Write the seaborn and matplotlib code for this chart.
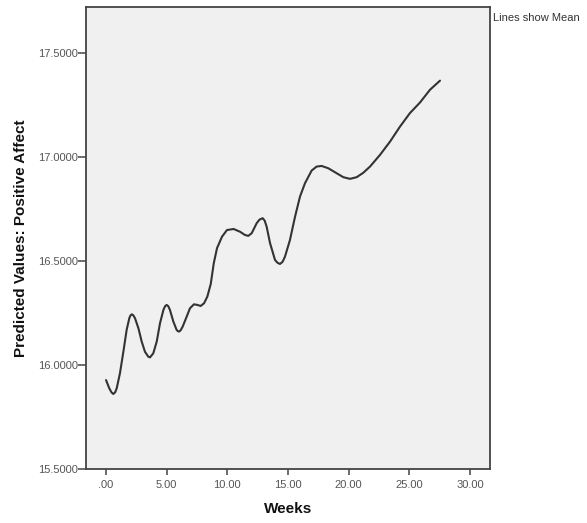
import matplotlib
matplotlib.use("Agg")
import matplotlib.pyplot as plt
import seaborn as sns
import pandas as pd

# Points
weeks = [0.00, 0.27, 0.45, 0.60, 0.75, 0.88, 1.15, 1.43, 1.70, 1.92, 2.00, 2.12,
         2.25, 2.39, 2.67, 2.94, 3.21, 3.49, 3.63, 3.90, 4.18, 4.45, 4.73, 4.87,
         5.00, 5.13, 5.27, 5.55, 5.82, 5.92, 6.02, 6.15, 6.32, 6.65, 6.92, 7.25,
         7.53, 7.80, 8.08, 8.35, 8.63, 8.88, 9.15, 9.56, 9.97, 10.52, 11.04, 11.46,
         11.73, 12.01, 12.42, 12.65, 12.91, 13.08, 13.24, 13.52, 13.93, 14.15, 14.34,
         14.55, 14.75, 15.16, 15.58, 15.99, 16.40, 16.95, 17.36, 17.77, 18.32, 19.01,
         19.56, 20.11, 20.66, 21.20, 21.76, 22.58, 23.41, 24.23, 25.05, 25.88, 26.70,
         27.53]
positive_affect = [15.929, 15.889, 15.870, 15.862, 15.870, 15.889, 15.962, 16.065,
                   16.170, 16.226, 16.238, 16.245, 16.240, 16.226, 16.178, 16.114,
                   16.065, 16.041, 16.038, 16.058, 16.114, 16.202, 16.266, 16.284,
                   16.290, 16.284, 16.266, 16.210, 16.170, 16.164, 16.162, 16.168,
                   16.186, 16.234, 16.274, 16.293, 16.290, 16.285, 16.298, 16.330,
                   16.390, 16.490, 16.563, 16.618, 16.650, 16.655, 16.642, 16.626,
                   16.622, 16.635, 16.683, 16.700, 16.707, 16.695, 16.666, 16.587,
                   16.506, 16.492, 16.487, 16.497, 16.522, 16.602, 16.714, 16.811,
                   16.875, 16.936, 16.955, 16.958, 16.947, 16.923, 16.904, 16.896,
                   16.904, 16.925, 16.955, 17.011, 17.075, 17.147, 17.212, 17.263,
                   17.324, 17.368]

x_ticks = [0, 5, 10, 15, 20, 25, 30]
x_tick_labels = [".00", "5.00", "10.00", "15.00", "20.00", "25.00", "30.00"]
y_ticks = [15.5, 16.0, 16.5, 17.0, 17.5]
y_tick_labels = ["15.5000", "16.0000", "16.5000", "17.0000", "17.5000"]

df = pd.DataFrame({"Weeks": weeks, "Predicted": positive_affect})

sns.set_style("white")
plt.rcParams["font.family"] = ["Liberation Sans", "DejaVu Sans"]

W, H = 587, 523
fig = plt.figure(figsize=(W / 100, H / 100), dpi=100)
left, right, top, bottom = 86, 490, 7, 469.3
ax = fig.add_axes([left / W, 1 - bottom / H, (right - left) / W, (bottom - top) / H])
ax.set_facecolor("#f0f0f0")

sns.lineplot(data=df, x="Weeks", y="Predicted", ax=ax, color="#333333",
             linewidth=1.5, sort=True, estimator=None)
ax.lines[0].set_solid_joinstyle("round")

ax.set_xlim(-1.65, 31.65)
ax.set_ylim(15.5, 17.722)
ax.set_xticks(x_ticks)
ax.set_xticklabels(x_tick_labels)
ax.set_yticks(y_ticks)
ax.set_yticklabels(y_tick_labels)

for s in ax.spines.values():
    s.set_color("#444444")
    s.set_linewidth(1.3)
    s.set_visible(True)

ax.tick_params(axis="y", direction="out", length=5.5, width=1.1, color="#444444",
               labelsize=8, labelcolor="#555555", pad=0.5, left=True)
ax.tick_params(axis="x", direction="out", length=4.5, width=1.1, color="#444444",
               labelsize=8, labelcolor="#555555", pad=3, bottom=True)

ax.set_xlabel("Weeks", fontsize=11, fontweight="bold", color="#111111", labelpad=9)
ax.set_ylabel("Predicted Values: Positive Affect", fontsize=11, fontweight="bold",
              color="#111111", labelpad=7)

fig.text(493 / W, 1 - 18 / H, "Lines show Mean", fontsize=8, color="#333333",
         ha="left", va="center")

fig.savefig("out.png", dpi=100, facecolor="white")
